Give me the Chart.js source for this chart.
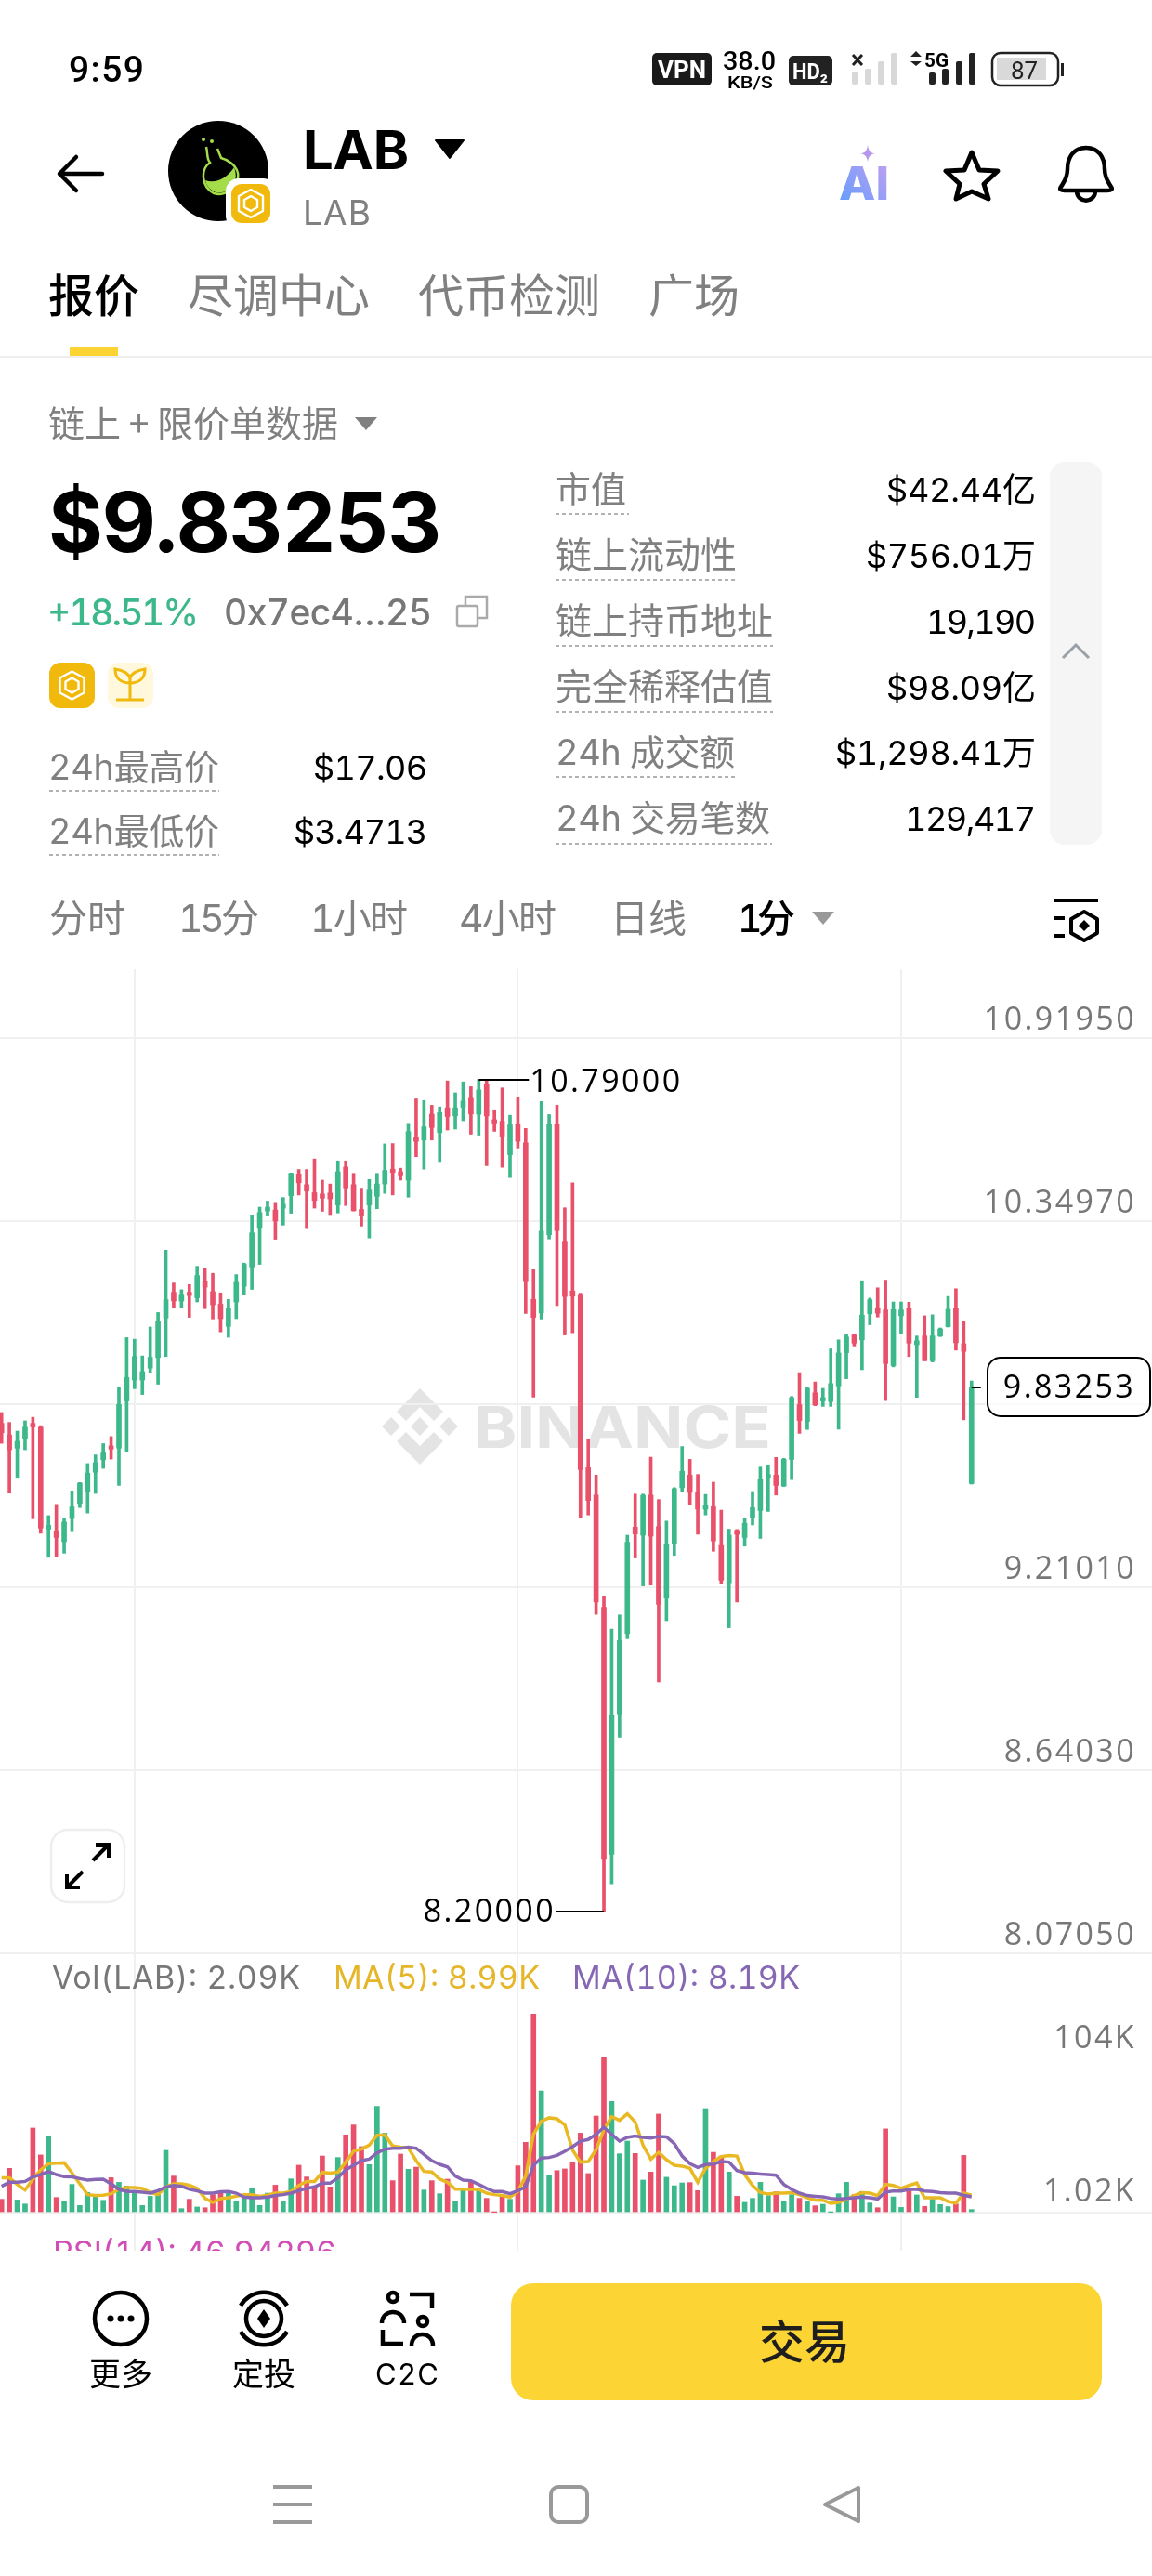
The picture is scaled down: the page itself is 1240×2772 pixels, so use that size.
<!DOCTYPE html>
<html>
<head>
<meta charset="utf-8">
<title>LAB</title>
<script src="https://cdn.jsdelivr.net/npm/chart.js@4"></script>
<style>
  html, body { margin: 0; padding: 0; background: #fff; }
  #page { position: relative; width: 1240px; height: 2772px; overflow: hidden; }
  #page svg { position: absolute; left: 0; top: 0; }
  #chartBox { position: absolute; left: 0; top: 1043px; width: 1240px; height: 1379px; }
  text { font-family: Inter, "Noto Sans CJK SC", sans-serif; font-variant-numeric: tabular-nums; }
  .g { fill: #808080; }
  .k { fill: #000; }
  .cn { font-family: "Noto Sans CJK SC", sans-serif; }
  .dash { stroke: #999; stroke-width: 1.5; stroke-dasharray: 4 3; }
</style>
</head>
<body>
<div id="page">

<!-- watermark sits under the chart -->
<svg width="1240" height="2772">
  <g transform="translate(452,1535)" fill="#e4e4e4">
    <path d="M0,-41 L25,-16 L15,-6 L0,-21 L-15,-6 L-25,-16 Z"/>
    <path d="M0,41 L25,16 L15,6 L0,21 L-15,6 L-25,16 Z"/>
    <path d="M-41,0 L-31,-10 L-21,0 L-31,10 Z"/>
    <path d="M41,0 L31,-10 L21,0 L31,10 Z"/>
    <path d="M0,-10 L10,0 L0,10 L-10,0 Z"/>
  </g>
  <text x="510" y="1558" font-size="62" font-weight="700" fill="#e4e4e4" textLength="320" lengthAdjust="spacingAndGlyphs">BINANCE</text>
</svg>

<div id="chartBox"><canvas id="klineChart" width="1240" height="1379"></canvas></div>

<svg width="1240" height="2772">
  <defs>
    <g id="bnbCube" fill="none" stroke="#fff" stroke-width="2.4" stroke-linejoin="round">
      <path d="M0,-15 L13,-8 L13,8 L0,15 L-13,8 L-13,-8 Z"/>
      <path d="M-7,-4 L0,-8 L7,-4 L7,4 L0,8 L-7,4 Z"/>
    </g>
    <linearGradient id="aiGrad" x1="0" x2="1" y1="1" y2="0">
      <stop offset="0" stop-color="#5b9dff"/><stop offset="1" stop-color="#c8a0ee"/>
    </linearGradient>
  </defs>

  <!-- status bar -->
  <text x="74" y="88" font-size="39" font-weight="500" style="font-family:Roboto" textLength="81">9:59</text>
  <rect x="702" y="57" width="64" height="35" rx="5" fill="#1a1a1a"/>
  <text x="708" y="84" font-size="25" font-weight="700" fill="#fff" style="font-family:Roboto" textLength="52" lengthAdjust="spacingAndGlyphs">VPN</text>
  <text x="778" y="75" font-size="27" font-weight="500" style="font-family:Roboto" textLength="57" lengthAdjust="spacingAndGlyphs">38.0</text>
  <text x="783" y="95" font-size="18" font-weight="500" style="font-family:Roboto" textLength="49" lengthAdjust="spacingAndGlyphs">KB/S</text>
  <rect x="849" y="60" width="47" height="32" rx="5" fill="#222"/>
  <text x="853" y="85" font-size="23" font-weight="700" fill="#fff" style="font-family:Roboto" textLength="38" lengthAdjust="spacingAndGlyphs">HD₂</text>
  <g fill="#d8d8d8">
    <rect x="917" y="77" width="7" height="14" rx="2"/><rect x="931" y="74" width="7" height="17" rx="2"/>
    <rect x="945" y="66" width="7" height="25" rx="2"/><rect x="959" y="57" width="7" height="34" rx="2"/>
  </g>
  <path d="M918,59 L928,70 M928,59 L918,70" stroke="#222" stroke-width="3"/>
  <g fill="#222">
    <rect x="1000" y="78" width="7" height="13" rx="2"/><rect x="1014" y="74" width="7" height="17" rx="2"/>
    <rect x="1029" y="66" width="7" height="25" rx="2"/><rect x="1043" y="57" width="7" height="34" rx="2"/>
    <path d="M980,61 L986,55 L992,61 Z M980,66 L986,71 L992,66 Z"/>
  </g>
  <text x="995" y="72" font-size="20" font-weight="700" style="font-family:Roboto" textLength="26" lengthAdjust="spacingAndGlyphs">5G</text>
  <rect x="1068" y="57" width="71" height="35" rx="9" fill="none" stroke="#222" stroke-width="2.5"/>
  <rect x="1073" y="62" width="53" height="24" fill="#d9d9d9"/>
  <rect x="1142" y="68" width="3" height="14" fill="#222"/>
  <text x="1088" y="85" font-size="26" fill="#222" style="font-family:Roboto">87</text>

  <!-- header -->
  <path d="M110,187 L64,187 M82,169 L64,187 L82,205" fill="none" stroke="#000" stroke-width="4.5" stroke-linecap="round" stroke-linejoin="round"/>
  <circle cx="235" cy="184" r="54" fill="#000"/>
  <path d="M222,158 C224,166 222,170 226,175 C216,182 216,200 230,208 C244,212 258,200 256,186 C254,178 246,172 238,170 L234,160" fill="none" stroke="#a4dc4a" stroke-width="2.5"/>
  <path d="M221,194 C232,198 244,192 252,180 C258,196 248,209 232,207 C226,204 222,200 221,194 Z" fill="#a4dc4a"/>
  <circle cx="219" cy="150" r="2" fill="#a4dc4a"/><circle cx="228" cy="152" r="2" fill="#a4dc4a"/>
  <rect x="243" y="192" width="54" height="54" rx="14" fill="#fff"/>
  <rect x="249" y="198" width="42" height="42" rx="11" fill="#F0B90B"/>
  <use href="#bnbCube" transform="translate(270,219)"/>
  <text x="326" y="182" font-size="58" font-weight="700" textLength="114">LAB</text>
  <path d="M469,151 L499,151 L484,170 Z" fill="#000" stroke="#000" stroke-width="2" stroke-linejoin="round"/>
  <text x="326" y="242" font-size="37" class="g" textLength="73">LAB</text>

  <text x="903" y="215" font-size="50" font-weight="800" fill="url(#aiGrad)" textLength="54" lengthAdjust="spacingAndGlyphs">AI</text>
  <path d="M934,156 C935,163 937,165 942,165 C937,166 935,168 934,174 C933,168 931,166 926,165 C931,165 933,163 934,156 Z" fill="#b596ec"/>
  <path d="M1047,164 L1055,183 L1075,184 L1060,198 L1065,214 L1047,206 L1030,214 L1034,198 L1019,184 L1039,183 Z" transform="translate(-1,0)" fill="none" stroke="#000" stroke-width="5" stroke-linejoin="round"/>
  <path d="M1170,159 C1156,159 1150,170 1150,182 C1150,192 1146,196 1143,201 C1141,204 1143,205 1147,205 L1193,205 C1197,205 1199,204 1197,201 C1194,196 1190,192 1190,182 C1190,170 1184,159 1170,159 Z M1160,206 C1161,219 1179,219 1180,206" transform="translate(-1,0)" fill="none" stroke="#000" stroke-width="4.5" stroke-linejoin="round"/>

  <!-- tabs -->
  <text x="52" y="336" font-size="49" font-weight="500" class="k cn">报价</text>
  <text x="202" y="336" font-size="49" class="g cn">尽调中心</text>
  <text x="450" y="336" font-size="49" class="g cn">代币检测</text>
  <text x="698" y="336" font-size="49" class="g cn">广场</text>
  <rect x="75" y="373" width="52" height="10" fill="#FCD535"/>
  <rect x="0" y="383" width="1240" height="2" fill="#eeeeee"/>

  <!-- price block -->
  <text x="52" y="470" font-size="39" class="g cn">链上 + 限价单数据</text>
  <path d="M382,449 L406,449 L394,463 Z" fill="#808080"/>
  <text x="52" y="594" font-size="90" font-weight="700" textLength="424">$9.83253</text>
  <text x="51" y="673" font-size="39" font-weight="500" fill="#3cb88a" textLength="163">+18.51%</text>
  <text x="241" y="673" font-size="39" font-weight="500" fill="#777" textLength="224">0x7ec4…25</text>
  <g fill="none" stroke="#aaa" stroke-width="2.5">
    <rect x="492" y="652" width="22" height="22" rx="2"/>
    <path d="M501,652 L501,642 L524,642 L524,665 L514,665"/>
  </g>
  <rect x="53" y="713" width="49" height="49" rx="12" fill="#F0B90B"/>
  <use href="#bnbCube" transform="translate(77.5,737.5)"/>
  <rect x="116" y="713" width="49" height="49" rx="12" fill="#FFF8DC"/>
  <path d="M140,752 L140,731 C140,725 132,721 124,720 C124,730 130,735 140,735 C150,735 156,730 156,720 C148,721 140,725 140,731 M125,753 L155,753" fill="none" stroke="#F0B90B" stroke-width="3"/>

  <text x="52" y="839" font-size="38" class="g" textLength="184">24h<tspan class="cn">最高价</tspan></text>
  <line class="dash" x1="53" y1="851" x2="236" y2="851"/>
  <text x="337" y="839" font-size="36" textLength="123">$17.06</text>
  <text x="52" y="908" font-size="38" class="g" textLength="184">24h<tspan class="cn">最低价</tspan></text>
  <line class="dash" x1="53" y1="920" x2="236" y2="920"/>
  <text x="316" y="908" font-size="36" textLength="144">$3.4713</text>

  <!-- market stats -->
  <text x="598" y="540" font-size="38" class="g cn">市值</text>
  <line class="dash" x1="598" y1="553" x2="677" y2="553"/>
  <text x="954" y="540" font-size="36" textLength="161">$42.44亿</text>
  <text x="598" y="611" font-size="39" class="g cn">链上流动性</text>
  <line class="dash" x1="598" y1="624" x2="792" y2="624"/>
  <text x="932" y="611" font-size="36" textLength="183">$756.01万</text>
  <text x="598" y="682" font-size="39" class="g cn">链上持币地址</text>
  <line class="dash" x1="598" y1="695" x2="832" y2="695"/>
  <text x="997" y="682" font-size="36" textLength="118">19,190</text>
  <text x="598" y="753" font-size="39" class="g cn">完全稀释估值</text>
  <line class="dash" x1="598" y1="766" x2="832" y2="766"/>
  <text x="954" y="753" font-size="36" textLength="161">$98.09亿</text>
  <text x="598" y="823" font-size="38" class="g" textLength="193">24h <tspan class="cn">成交额</tspan></text>
  <line class="dash" x1="598" y1="836" x2="792" y2="836"/>
  <text x="899" y="823" font-size="36" textLength="216">$1,298.41万</text>
  <text x="598" y="894" font-size="38" class="g" textLength="231">24h <tspan class="cn">交易笔数</tspan></text>
  <line class="dash" x1="598" y1="908" x2="831" y2="908"/>
  <text x="974" y="894" font-size="36" textLength="141">129,417</text>
  <rect x="1130" y="497" width="56" height="412" rx="16" fill="#f5f5f5"/>
  <path d="M1144,708 L1158,694 L1172,708" fill="none" stroke="#9aa0a6" stroke-width="3"/>

  <!-- interval row -->
  <text x="53" y="1003" font-size="41" class="g cn">分时</text>
  <text x="192" y="1003" font-size="41" class="g" textLength="87">15<tspan class="cn">分</tspan></text>
  <text x="334" y="1003" font-size="41" class="g" textLength="105">1<tspan class="cn">小时</tspan></text>
  <text x="494" y="1003" font-size="41" class="g" textLength="105">4<tspan class="cn">小时</tspan></text>
  <text x="657" y="1003" font-size="41" class="g cn">日线</text>
  <text x="794" y="1003" font-size="41" font-weight="500" class="k" textLength="62">1<tspan class="cn">分</tspan></text>
  <path d="M874,981 L898,981 L886,995 Z" fill="#999"/>
  <g fill="none" stroke="#000" stroke-width="4" transform="translate(-1,0)">
    <path d="M1135,969 L1183,969 M1135,988 L1147,988 M1135,1007 L1147,1007"/>
    <path d="M1168,981 L1182,989 L1182,1004 L1168,1012 L1154,1004 L1154,989 Z" stroke-linejoin="round"/>
    <path d="M1168,990 L1174,996 L1168,1002 L1162,996 Z" fill="#000" stroke="none"/>
  </g>

  <!-- indicator labels -->
  <text x="56" y="2140" font-size="34" fill="#777" textLength="267">Vol(LAB): 2.09K</text>
  <text x="359" y="2140" font-size="34" fill="#E5B629" textLength="222">MA(5): 8.99K</text>
  <text x="616" y="2140" font-size="34" fill="#8667B3" textLength="245">MA(10): 8.19K</text>
  <text x="57" y="2436" font-size="34" fill="#D04EB5" textLength="305">RSI(14): 46.94296</text>

  <!-- expand button -->
  <rect x="55" y="1969" width="79" height="78" rx="18" fill="#fff" stroke="#eee" stroke-width="2.5"/>
  <path d="M72,2031 L89,2014 M72,2017 L72,2031 L86,2031 M117,1985 L100,2002 M103,1985 L117,1985 L117,1999" fill="none" stroke="#000" stroke-width="4"/>

  <!-- bottom bar -->
  <rect x="0" y="2422" width="1240" height="350" fill="#fff"/>
  <circle cx="130" cy="2495" r="28" fill="none" stroke="#000" stroke-width="4.5"/>
  <circle cx="119" cy="2495" r="3.5"/><circle cx="130" cy="2495" r="3.5"/><circle cx="141" cy="2495" r="3.5"/>
  <path d="M259,2481 A29,29 0 0 1 309,2481 M309,2509 A29,29 0 0 1 259,2509" fill="none" stroke="#000" stroke-width="4.5"/>
  <circle cx="284" cy="2495" r="19" fill="none" stroke="#000" stroke-width="4.5"/>
  <path d="M284,2485 L291,2495 L284,2505 L277,2495 Z" fill="#000"/>
  <g fill="none" stroke="#000" stroke-width="4.5">
    <path d="M441,2469 L465,2469 L465,2484 M412,2507 L412,2522 L434,2522"/>
    <circle cx="423" cy="2472" r="5"/><circle cx="455" cy="2498" r="5"/>
    <path d="M411,2500 C411,2484 435,2484 435,2500 M443,2524 C443,2508 466,2508 466,2524"/>
  </g>
  <text x="130" y="2567" font-size="34" text-anchor="middle" class="k cn">更多</text>
  <text x="284" y="2567" font-size="34" text-anchor="middle" class="k cn">定投</text>
  <text x="404" y="2566" font-size="31" class="k" textLength="68">C2C</text>
  <rect x="550" y="2457" width="636" height="126" rx="24" fill="#FCD535"/>
  <text x="866" y="2538" font-size="49" font-weight="500" text-anchor="middle" fill="#1e1e1e" class="cn">交易</text>
  <path d="M294,2676 L336,2676 M294,2695 L336,2695 M294,2714 L336,2714" stroke="#999" stroke-width="4"/>
  <rect x="593" y="2676" width="39" height="38" rx="8" fill="none" stroke="#999" stroke-width="4"/>
  <path d="M924,2677 L888,2695 L924,2713 Z" fill="none" stroke="#999" stroke-width="4" stroke-linejoin="round"/>
</svg>
</div>

<script>
// 1m candles, oldest first
const opens = [9.720,9.684,9.643,9.672,9.720,9.708,9.391,9.383,9.352,9.424,
  9.471,9.508,9.568,9.607,9.650,9.643,9.790,9.855,9.855,9.892,
  9.925,10.048,10.128,10.101,10.128,10.111,10.162,10.130,10.091,10.022,
  10.098,10.147,10.207,10.330,10.381,10.384,10.390,10.429,10.496,10.463,
  10.438,10.434,10.437,10.400,10.518,10.463,10.386,10.400,10.427,10.465,
  10.511,10.503,10.477,10.609,10.602,10.682,10.625,10.702,10.677,10.704,
  10.732,10.682,10.776,10.665,10.660,10.556,10.651,10.593,10.106,10.064,
  10.307,10.652,10.287,10.132,10.122,9.582,9.497,9.148,8.379,8.816,
  9.066,9.397,9.372,9.497,9.399,9.176,9.347,9.520,9.559,9.505,
  9.453,9.461,9.340,9.224,9.387,9.365,9.428,9.449,9.552,9.559,
  9.525,9.608,9.778,9.726,9.815,9.790,9.788,9.837,9.940,9.995,
  9.980,10.061,10.080,10.073,9.900,10.055,10.077,9.965,9.992,9.915,
  9.992,10.021,10.079,9.968,9.533];
const highs = [9.754,9.723,9.696,9.728,9.739,9.713,9.433,9.468,9.423,9.510,
  9.536,9.595,9.622,9.657,9.679,9.833,9.987,9.982,9.930,10.020,
  10.065,10.259,10.157,10.136,10.152,10.209,10.204,10.187,10.126,10.106,
  10.183,10.219,10.369,10.393,10.412,10.408,10.423,10.499,10.510,10.510,
  10.543,10.477,10.465,10.537,10.537,10.498,10.452,10.479,10.498,10.590,
  10.591,10.514,10.654,10.730,10.725,10.710,10.705,10.786,10.749,10.783,
  10.768,10.790,10.786,10.696,10.764,10.679,10.734,10.638,10.198,10.722,
  10.681,10.710,10.391,10.469,10.125,9.670,9.559,9.183,9.080,9.124,
  9.372,9.500,9.500,9.615,9.483,9.416,9.520,9.648,9.608,9.561,
  9.499,9.537,9.450,9.391,9.390,9.424,9.508,9.584,9.589,9.614,
  9.611,9.804,9.878,9.832,9.849,9.829,9.952,9.980,9.996,9.998,
  10.164,10.110,10.142,10.166,10.098,10.098,10.097,9.992,10.055,10.058,
  10.017,10.115,10.139,10.037,9.852];
const lows = [9.658,9.503,9.552,9.638,9.423,9.378,9.303,9.306,9.316,9.383,
  9.458,9.441,9.502,9.580,9.609,9.527,9.631,9.828,9.810,9.879,
  9.842,9.928,10.079,10.079,10.050,10.098,10.077,10.045,10.005,9.988,
  10.046,10.120,10.137,10.215,10.366,10.293,10.337,10.374,10.431,10.329,
  10.390,10.380,10.370,10.375,10.398,10.381,10.334,10.297,10.388,10.436,
  10.431,10.477,10.424,10.550,10.511,10.602,10.535,10.633,10.636,10.662,
  10.620,10.617,10.522,10.629,10.517,10.485,10.577,10.062,9.802,10.045,
  10.294,10.087,9.995,10.002,9.427,9.435,9.126,8.200,8.287,8.743,
  9.050,9.301,9.214,9.217,8.915,9.106,9.309,9.509,9.466,9.375,
  9.435,9.322,9.220,9.084,9.164,9.338,9.404,9.362,9.446,9.497,
  9.524,9.545,9.689,9.701,9.775,9.773,9.773,9.702,9.859,9.961,
  9.887,10.027,10.051,9.791,9.896,9.999,9.928,9.801,9.915,9.911,
  9.990,10.020,9.948,9.731,9.531];
const closes = [9.691,9.638,9.664,9.708,9.709,9.394,9.403,9.365,9.413,9.460,
  9.534,9.565,9.598,9.628,9.640,9.779,9.863,9.928,9.881,9.926,
  10.037,10.105,10.101,10.122,10.118,10.180,10.144,10.089,10.046,10.077,
  10.159,10.215,10.313,10.376,10.393,10.350,10.402,10.498,10.469,10.443,
  10.414,10.421,10.419,10.503,10.453,10.382,10.368,10.446,10.465,10.507,
  10.501,10.493,10.628,10.598,10.643,10.641,10.687,10.675,10.702,10.723,
  10.683,10.758,10.677,10.655,10.614,10.649,10.598,10.161,10.050,10.318,
  10.650,10.320,10.115,10.116,9.576,9.480,9.164,8.366,8.811,9.044,
  9.350,9.376,9.496,9.369,9.157,9.343,9.517,9.571,9.505,9.453,
  9.464,9.354,9.232,9.372,9.375,9.409,9.458,9.545,9.561,9.527,
  9.608,9.800,9.729,9.829,9.778,9.800,9.844,9.939,9.989,9.970,
  10.057,10.105,10.063,9.906,10.074,10.073,9.970,9.977,9.915,9.992,
  10.014,10.075,9.971,9.944,9.83253];

// volume in K
const volumes = [9.0,29.8,8.5,5.8,56.9,38.8,51.7,10.2,7.9,19.0,
  4.8,13.5,12.1,8.3,23.5,20.4,17.9,13.1,4.8,11.0,
  12.1,41.9,24.6,2.7,9.0,3.8,3.3,12.1,13.1,13.1,
  7.5,10.0,16.7,4.8,13.1,18.5,7.5,22.7,31.9,24.0,
  17.3,38.1,17.3,37.1,52.3,59.0,44.4,32.3,71.5,53.5,
  21.5,39.4,29.2,30.6,15.2,21.5,12.7,22.5,7.9,15.2,
  20.4,15.2,9.6,0.2,12.1,9.0,31.5,47.3,133.5,81.9,
  25.0,28.3,29.4,34.0,53.5,26.3,65.0,104.4,74.8,39.6,
  48.1,39.8,21.9,27.3,66.3,23.8,18.1,20.0,20.2,14.8,
  70.0,40.6,38.1,27.3,11.0,6.9,9.6,20.4,11.5,14.0,
  7.7,12.1,9.6,7.9,4.6,5.6,0.2,12.7,20.4,12.1,
  14.2,6.5,3.3,56.3,10.6,3.5,15.2,11.9,4.2,9.0,
  5.4,4.0,5.8,38.5,2.09];
const ma5 = [23.5,23.5,19.0,15.2,22.5,28.8,32.9,33.3,33.5,26.7,
  19.4,12.1,11.5,11.7,12.7,15.6,16.9,16.9,16.3,13.5,
  12.1,17.3,19.4,19.4,18.5,16.3,9.6,6.9,9.4,10.0,
  11.0,12.1,12.1,11.0,11.7,13.1,13.1,14.2,18.3,21.0,
  21.0,27.1,26.5,27.3,34.0,41.3,42.7,45.4,52.1,52.3,
  44.8,44.0,43.5,35.0,27.7,27.3,22.5,20.4,15.8,15.8,
  15.6,15.6,13.1,12.1,11.5,10.4,14.2,24.6,52.7,61.5,
  63.8,63.1,59.0,42.0,34.0,34.4,42.3,55.8,64.6,62.1,
  66.5,61.0,45.4,36.0,40.6,35.6,31.9,31.3,29.8,20.4,
  29.8,34.4,37.7,38.5,38.1,25.6,18.3,13.5,12.5,13.1,
  13.1,13.5,12.1,10.0,8.5,8.3,6.3,6.9,9.0,11.5,
  13.5,13.1,11.5,19.0,18.3,16.3,18.3,20.0,10.0,10.0,
  10.0,7.5,6.3,13.1,11.7];
const ma10 = [17.7,20.4,20.4,21.0,24.0,25.6,27.7,25.6,24.2,24.0,
  22.9,21.9,22.3,22.5,19.4,15.6,14.2,14.2,13.8,13.1,
  14.8,17.3,18.3,17.7,15.8,14.6,13.1,13.1,14.0,14.2,
  13.1,10.4,10.0,10.0,10.4,11.5,12.1,13.1,14.8,16.3,
  17.3,19.8,19.8,23.5,28.8,31.9,35.0,36.0,40.2,42.7,
  43.3,43.3,44.0,43.3,39.2,35.0,32.5,30.8,24.6,21.9,
  21.5,19.0,16.3,14.2,14.2,12.7,14.8,17.3,31.9,36.7,
  37.1,38.5,41.3,44.4,48.1,49.2,52.7,57.5,52.7,48.1,
  50.6,51.5,50.6,50.2,51.3,51.0,46.5,38.1,32.9,30.4,
  32.3,32.7,34.4,34.0,28.3,26.9,26.5,26.0,25.6,25.2,
  19.0,15.6,13.1,11.5,11.0,10.6,9.6,9.0,9.6,10.0,
  10.4,10.0,9.2,13.8,14.6,14.6,15.6,15.8,14.6,14.2,
  13.5,13.1,13.1,11.7,10.6];

const priceTicks = [8.0705, 8.6403, 9.2101, 9.7799, 10.3497, 10.9195];
const volumeTicks = [0, 1.02, 104];
const timeGridAt = [17, 66, 115];

const highMark = { index: 61, value: 10.79 };
const lowMark = { index: 77, value: 8.2 };
const lastPrice = 9.83253;

const UP = "#3cb88a";
const DOWN = "#e9506a";
const GRID = "#f0f0f0";
const FONT = '"Open Sans"';

function candleColor(i) {
  return closes[i] >= opens[i] ? UP : DOWN;
}

function alongX(values) {
  return values.map((v, i) => ({ x: i, y: v }));
}

// mirrored labels should not eat into the plot area
function flatAxis(scale) {
  scale.width = 0;
  scale.paddingTop = 0;
  scale.paddingBottom = 0;
}

// the app's digits sit wider apart than any installed font
const wideDigits = {
  id: "wideDigits",
  beforeDraw(chart) {
    chart.ctx.letterSpacing = "2.4px";
  }
};

// price extremes and the current price box
const markers = {
  id: "markers",
  afterDatasetsDraw(chart) {
    const { ctx, scales } = chart;
    const x = scales.x, y = scales.y;
    ctx.save();
    ctx.strokeStyle = "#000";
    ctx.fillStyle = "#000";
    ctx.lineWidth = 2;
    ctx.font = "400 34px " + FONT;
    ctx.textBaseline = "middle";

    let py = Math.round(y.getPixelForValue(highMark.value));
    let px = x.getPixelForValue(highMark.index);
    ctx.beginPath();
    ctx.moveTo(px, py);
    ctx.lineTo(px + 54, py);
    ctx.stroke();
    ctx.textAlign = "left";
    ctx.fillText(highMark.value.toFixed(5), px + 55, py + 3);

    py = Math.round(y.getPixelForValue(lowMark.value));
    px = x.getPixelForValue(lowMark.index);
    ctx.beginPath();
    ctx.moveTo(px, py);
    ctx.lineTo(px - 52, py);
    ctx.stroke();
    ctx.textAlign = "right";
    ctx.fillText(lowMark.value.toFixed(5), px - 52, py + 1);

    py = Math.round(y.getPixelForValue(lastPrice));
    px = x.getPixelForValue(opens.length - 1);
    ctx.beginPath();
    ctx.moveTo(px, py);
    ctx.lineTo(px + 10, py);
    ctx.stroke();
    ctx.beginPath();
    ctx.roundRect(1063, py - 32, 175, 63, 14);
    ctx.fillStyle = "rgba(255,255,255,0.72)";
    ctx.fill();
    ctx.stroke();
    ctx.fillStyle = "#000";
    ctx.textAlign = "center";
    ctx.fillText(lastPrice.toFixed(5), 1151, py + 1);
    ctx.restore();
  }
};

const kline = new Chart(document.getElementById("klineChart"), {
  type: "bar",
  plugins: [wideDigits, markers],
  data: {
    datasets: [
      { type: "line", data: alongX(ma10), yAxisID: "yVol", borderColor: "#8767b5", borderWidth: 3.5, pointRadius: 0, tension: 0 },
      { type: "line", data: alongX(ma5), yAxisID: "yVol", borderColor: "#e8b923", borderWidth: 3.5, pointRadius: 0, tension: 0 },
      { data: alongX(volumes), yAxisID: "yVol", barThickness: 5, backgroundColor: volumes.map((v, i) => candleColor(i)) },
      { data: opens.map((o, i) => ({ x: i, y: [o, closes[i]] })), yAxisID: "y", barThickness: 5, backgroundColor: opens.map((o, i) => candleColor(i)) },
      { data: lows.map((l, i) => ({ x: i, y: [l, highs[i]] })), yAxisID: "y", barThickness: 3, backgroundColor: lows.map((l, i) => candleColor(i)) }
    ]
  },
  options: {
    responsive: false,
    animation: false,
    devicePixelRatio: 1,
    grouped: false,
    layout: { padding: 0 },
    plugins: { legend: { display: false }, tooltip: { enabled: false } },
    scales: {
      x: {
        type: "linear",
        offset: false,
        min: -0.202,
        max: 147.07,
        border: { display: false },
        grid: { offset: false, color: GRID, lineWidth: 2, drawTicks: false },
        ticks: { display: false },
        afterBuildTicks: s => { s.ticks = timeGridAt.map(v => ({ value: v })); }
      },
      y: {
        position: "right",
        min: 7.1449,
        max: 11.1335,
        border: { display: false },
        grid: { color: GRID, lineWidth: 2, drawTicks: false },
        ticks: {
          mirror: true,
          autoSkip: false,
          padding: -17,
          labelOffset: -19,
          color: c => c.tick && c.tick.value === 9.7799 ? "#e2e2e2" : "#777",
          font: { family: FONT, size: 34, weight: "400" },
          callback: v => v.toFixed(5)
        },
        afterBuildTicks: s => { s.ticks = priceTicks.map(v => ({ value: v })); },
        afterFit: flatAxis
      },
      yVol: {
        position: "right",
        min: -25.625,
        max: 836.25,
        border: { display: false },
        grid: { color: c => c.tick && c.tick.value === 0 ? GRID : "transparent", lineWidth: 2, drawTicks: false },
        ticks: {
          mirror: true,
          autoSkip: false,
          padding: -17,
          labelOffset: -20,
          color: "#777",
          font: { family: FONT, size: 34, weight: "400" },
          callback: v => v === 0 ? "" : v + "K"
        },
        afterBuildTicks: s => { s.ticks = volumeTicks.map(v => ({ value: v })); },
        afterFit: flatAxis
      }
    }
  }
});
</script>
</body>
</html>
